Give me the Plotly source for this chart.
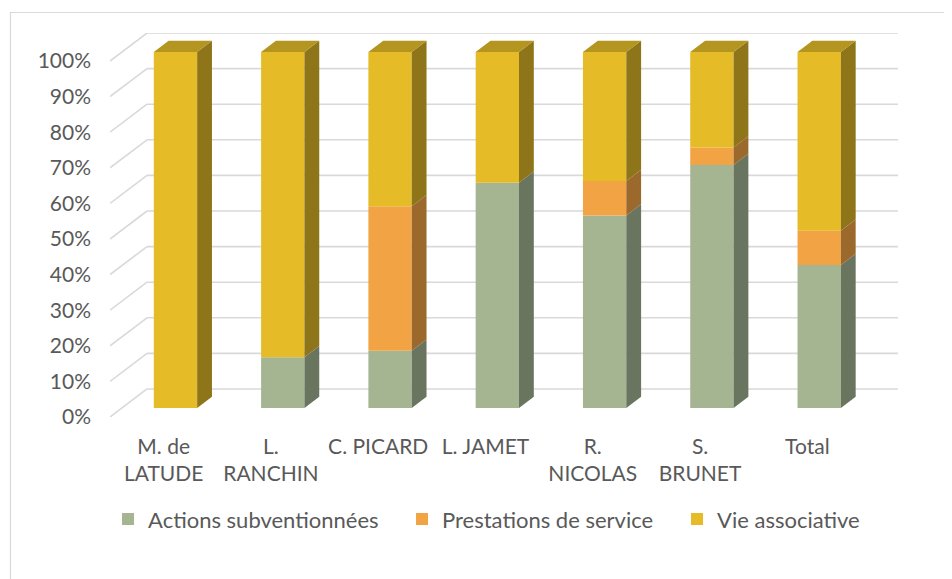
import plotly.graph_objects as go

# ---------------- data ----------------
categories = ["M. de<br>LATUDE", "L.<br>RANCHIN", "C. PICARD", "L. JAMET",
              "R.<br>NICOLAS", "S.<br>BRUNET", "Total"]
series_names = ["Actions subventionnées", "Prestations de service", "Vie associative"]
actions = [0.0, 14.3, 16.1, 63.3, 54.1, 68.3, 40.2]
prestations = [0.0, 0.0, 40.6, 0.0, 9.7, 4.9, 9.6]
vie = [100.0, 85.7, 43.3, 36.7, 36.2, 26.8, 50.2]
y_ticks = [0, 10, 20, 30, 40, 50, 60, 70, 80, 90, 100]

# ---------------- style / projection ----------------
front_cols = ["#A5B592", "#F2A444", "#E5BC28"]
side_cols = ["#6A7560", "#9C692D", "#8F751A"]
top_col = "#B4951F"
grid_col = "#D9D9D9"
txt_col = "#595959"
FONT = "Lato"
legend_widths = [249, 230, None]

DX = 0.345      # depth offset in category units
DY = 7.87       # depth offset in % units
FRONT = 0.32    # depth fraction of bar front face
BACK = 0.72     # depth fraction of bar back face
BAR_W = 0.404

n = len(categories)
xs = list(range(n))
fdx, fdy = FRONT * DX, FRONT * DY
sdx, sdy = (BACK - FRONT) * DX, (BACK - FRONT) * DY

fig = go.Figure()

# front faces (real bars)
vals = [actions, prestations, vie]
cum = [0.0] * n
seg = []  # (i, bottom, value, series)
for s, v in enumerate(vals):
    bases = [c + fdy for c in cum]
    kw = {}
    if legend_widths[s]:
        kw["legendwidth"] = legend_widths[s]
    fig.add_trace(go.Bar(
        x=[i + fdx for i in xs], y=v, base=bases, width=BAR_W,
        name=series_names[s], marker=dict(color=front_cols[s], line=dict(width=0)),
        hoverinfo="skip", **kw))
    for i in xs:
        if v[i] > 0:
            seg.append((i, cum[i], v[i], s))
    cum = [c + vv for c, vv in zip(cum, v)]

# side faces
for s in range(3):
    px, py = [], []
    for (i, b, v, ss) in seg:
        if ss != s:
            continue
        xr = i + fdx + BAR_W / 2
        yb = b + fdy
        yt = yb + v
        px += [xr, xr + sdx, xr + sdx, xr, xr, None]
        py += [yb, yb + sdy, yt + sdy, yt, yb, None]
    fig.add_trace(go.Scatter(x=px, y=py, mode="lines", fill="toself",
                             fillcolor=side_cols[s], line=dict(width=0, color=side_cols[s]),
                             showlegend=False, hoverinfo="skip"))

# top faces
px, py = [], []
for i in xs:
    xl = i + fdx - BAR_W / 2
    xr = i + fdx + BAR_W / 2
    T = cum[i] + fdy
    px += [xl, xr, xr + sdx, xl + sdx, xl, None]
    py += [T, T, T + sdy, T + sdy, T, None]
fig.add_trace(go.Scatter(x=px, y=py, mode="lines", fill="toself",
                         fillcolor=top_col, line=dict(width=0, color=top_col),
                         showlegend=False, hoverinfo="skip"))

# perspective gridlines (left wall diagonal + back wall horizontal)
x0, x1 = -0.5, n - 0.5
shapes = []
for t in y_ticks:
    shapes.append(dict(type="line", xref="x", yref="y", x0=x0, y0=t, x1=x0 + DX, y1=t + DY,
                       line=dict(color=grid_col, width=1.6), layer="below"))
    shapes.append(dict(type="line", xref="x", yref="y", x0=x0 + DX, y0=t + DY, x1=x1 + DX, y1=t + DY,
                       line=dict(color=grid_col, width=1.6), layer="below"))

# chart border (only top & left visible in picture)
shapes.append(dict(type="rect", xref="paper", yref="paper",
                   x0=-0.1263, y0=-0.45, x1=1.08, y1=1.0534,
                   line=dict(color="#D9D9D9", width=1.2), layer="below"))

fig.update_layout(
    width=952, height=579,
    margin=dict(l=102, r=62, t=25, b=170),
    paper_bgcolor="white", plot_bgcolor="white",
    barmode="overlay",
    shapes=shapes,
    font=dict(family=FONT, color=txt_col, size=20),
    xaxis=dict(range=[x0, x1 + DX], tickvals=xs, ticktext=categories,
               showgrid=False, zeroline=False, showline=False, ticks="",
               tickfont=dict(size=21, color=txt_col), ticklabelstandoff=15,
               fixedrange=True),
    yaxis=dict(range=[0, 100 + DY], tickvals=y_ticks,
               ticktext=[f"{t}%" for t in y_ticks],
               showgrid=False, zeroline=False, showline=False, ticks="",
               tickfont=dict(size=21, color=txt_col), ticklabelstandoff=18,
               fixedrange=True),
    legend=dict(orientation="h", x=-0.0025, xanchor="left", y=-0.266, yanchor="middle",
                font=dict(size=22, color=txt_col), itemwidth=30, traceorder="normal"),
    showlegend=True,
)

fig.write_html("out.html")
